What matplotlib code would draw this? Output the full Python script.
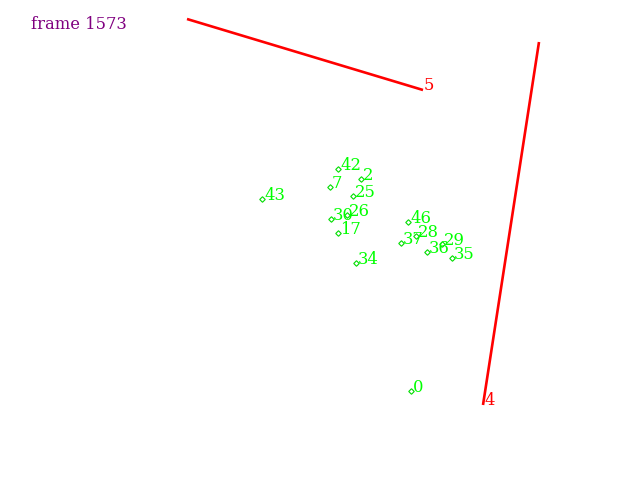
import matplotlib
matplotlib.use("Agg")
import matplotlib.pyplot as plt

# point ids and pixel positions (x right, y down)
point_ids = ["42", "2", "7", "43", "25", "26", "30", "17", "46", "37", "28", "36", "29", "35", "34", "0"]
point_x = [338, 361, 330, 262, 353, 347, 331, 338, 408, 401, 416, 427, 442, 452, 356, 411]
point_y = [169, 179, 187, 199, 196, 215, 219, 233, 222, 243, 236, 252, 244, 258, 263, 391]

# line segments: id, start, end (label sits at end)
line_ids = ["5", "4"]
line_x0 = [187, 539]
line_y0 = [19, 42]
line_x1 = [423, 483]
line_y1 = [90, 405]

frame_label = "frame 1573"

fig = plt.figure(figsize=(6.4, 4.8), dpi=100)
ax = fig.add_axes([0, 0, 1, 1])
ax.set_xlim(0, 640)
ax.set_ylim(480, 0)
ax.axis("off")

font = "DejaVu Serif"
fs = 11.8

for lid, x0, y0, x1, y1 in zip(line_ids, line_x0, line_y0, line_x1, line_y1):
    ax.plot([x0, x1], [y0, y1], color="#ff0000", lw=1.9, solid_capstyle="butt")
    ax.annotate(lid, (x1, y1), xytext=(1, 0), textcoords="offset pixels",
                color="#ff0000", fontsize=fs, family=font, va="baseline", ha="left")

ax.plot(point_x, point_y, linestyle="none", marker="D", markersize=2.8,
        markerfacecolor="white", markeredgecolor="#00dd00", markeredgewidth=0.8)
for pid, x, y in zip(point_ids, point_x, point_y):
    ax.annotate(pid, (x, y), xytext=(2, -1), textcoords="offset pixels",
                color="#00ff00", fontsize=fs, family=font, va="baseline", ha="left")

ax.text(31, 29, frame_label, color="#800080", fontsize=fs, family=font,
        va="baseline", ha="left")

fig.savefig("out.png", dpi=100)
